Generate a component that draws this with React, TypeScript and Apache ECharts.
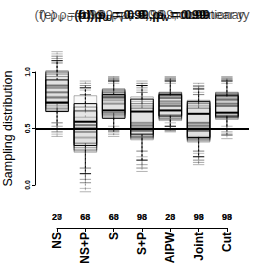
import React, { useEffect, useRef } from "react";
import * as echarts from "echarts";

const categories = ["NS", "NS+P", "S", "S+P", "AIPW", "Joint", "Cut"];

// Each layer: per category [min, q1, median, q3, max]
const layer1 = [
  [0.43, 0.66, 0.78, 0.98, 1.18],
  [-0.06, 0.29, 0.5, 0.79, 0.92],
  [0.43, 0.6, 0.77, 0.85, 0.96],
  [0.12, 0.4, 0.53, 0.78, 0.92],
  [0.47, 0.57, 0.72, 0.82, 0.96],
  [0.18, 0.38, 0.52, 0.75, 0.9],
  [0.41, 0.58, 0.75, 0.82, 0.96],
];
const layer2 = [
  [0.47, 0.68, 0.82, 1.01, 1.14],
  [0.02, 0.31, 0.53, 0.69, 0.88],
  [0.47, 0.62, 0.8, 0.84, 0.94],
  [0.15, 0.42, 0.5, 0.72, 0.9],
  [0.5, 0.59, 0.77, 0.81, 0.94],
  [0.22, 0.4, 0.55, 0.72, 0.87],
  [0.45, 0.6, 0.72, 0.8, 0.94],
];
const layer3 = [
  [0.5, 0.65, 0.73, 0.93, 1.1],
  [0.1, 0.35, 0.56, 0.72, 0.86],
  [0.5, 0.59, 0.66, 0.8, 0.92],
  [0.22, 0.45, 0.65, 0.76, 0.88],
  [0.52, 0.61, 0.66, 0.8, 0.92],
  [0.25, 0.42, 0.63, 0.74, 0.85],
  [0.5, 0.61, 0.64, 0.79, 0.92],
];
const layer4 = [
  [0.52, 0.7, 0.86, 0.96, 1.12],
  [0.05, 0.33, 0.47, 0.65, 0.9],
  [0.45, 0.63, 0.72, 0.83, 0.95],
  [0.18, 0.41, 0.55, 0.7, 0.86],
  [0.49, 0.58, 0.74, 0.82, 0.95],
  [0.2, 0.39, 0.5, 0.7, 0.88],
  [0.47, 0.59, 0.76, 0.81, 0.95],
];
const layer5 = [
  [0.45, 0.67, 0.77, 0.99, 1.16],
  [-0.03, 0.3, 0.42, 0.6, 0.84],
  [0.52, 0.61, 0.75, 0.85, 0.9],
  [0.25, 0.44, 0.52, 0.74, 0.84],
  [0.55, 0.6, 0.79, 0.8, 0.9],
  [0.28, 0.43, 0.53, 0.73, 0.82],
  [0.52, 0.62, 0.8, 0.82, 0.9],
];
const layer6 = [
  [0.55, 0.72, 0.88, 1.0, 1.08],
  [0.15, 0.37, 0.5, 0.66, 0.8],
  [0.48, 0.64, 0.78, 0.82, 0.93],
  [0.3, 0.43, 0.48, 0.68, 0.82],
  [0.48, 0.62, 0.7, 0.79, 0.93],
  [0.3, 0.41, 0.48, 0.68, 0.8],
  [0.44, 0.6, 0.7, 0.78, 0.93],
];

const countsA = ["27", "63", "60", "96", "23", "93", "98"];
const countsB = ["20", "68", "68", "98", "20", "99", "99"];
const countsC = ["23", "66", "63", "93", "28", "98", "93"];

const titles = [
  { text: "{n|(f) ρ}{s|U}{n| = 0.99, ρ}{s|V}{n| = 0.99, nonstationary}", bold: false },
  { text: "{n|(e) ρ}{s|U}{n| = 0.99, ρ}{s|V}{n| = 0.99, nonlinear y}", bold: false },
  { text: "{n|(b) ρ}{s|U}{n| = 0.99, ρ}{s|V}{n| = 0.99}", bold: true },
  { text: "{n|(d) ρ}{s|U}{n| = 0.9, ρ}{s|V}{n| = 0.99}", bold: true },
];

const refLine = 0.5;

const layers = [
  { data: layer1, color: "rgba(0,0,0,0.30)" },
  { data: layer2, color: "rgba(0,0,0,0.45)" },
  { data: layer4, color: "rgba(0,0,0,0.35)" },
  { data: layer5, color: "rgba(0,0,0,0.25)" },
  { data: layer6, color: "rgba(0,0,0,0.50)" },
  { data: layer3, color: "rgba(0,0,0,1)" },
];

const FONT = "Liberation Sans";

function makeRenderer(color: string) {
  return (params: any, api: any) => {
    const x = api.value(0);
    const pMin = api.coord([x, api.value(1)]);
    const pQ1 = api.coord([x, api.value(2)]);
    const pMed = api.coord([x, api.value(3)]);
    const pQ3 = api.coord([x, api.value(4)]);
    const pMax = api.coord([x, api.value(5)]);
    const half = api.size([0.8, 0])[0] / 2;
    const cx = pMed[0];
    const cap = half * 0.5;
    return {
      type: "group",
      children: [
        {
          type: "line",
          shape: { x1: cx, y1: pQ3[1], x2: cx, y2: pMax[1] },
          style: { stroke: color, lineWidth: 1, lineDash: [2, 2] },
        },
        {
          type: "line",
          shape: { x1: cx, y1: pQ1[1], x2: cx, y2: pMin[1] },
          style: { stroke: color, lineWidth: 1, lineDash: [2, 2] },
        },
        {
          type: "line",
          shape: { x1: cx - cap, y1: pMax[1], x2: cx + cap, y2: pMax[1] },
          style: { stroke: color, lineWidth: 1 },
        },
        {
          type: "line",
          shape: { x1: cx - cap, y1: pMin[1], x2: cx + cap, y2: pMin[1] },
          style: { stroke: color, lineWidth: 1 },
        },
        {
          type: "rect",
          shape: { x: cx - half, y: pQ3[1], width: half * 2, height: pQ1[1] - pQ3[1] },
          style: { fill: "rgba(0,0,0,0.02)", stroke: color, lineWidth: 1 },
        },
        {
          type: "line",
          shape: { x1: cx - half, y1: pMed[1], x2: cx + half, y2: pMed[1] },
          style: { stroke: color, lineWidth: 2 },
        },
      ],
    };
  };
}

export default function App() {
  const ref = useRef<HTMLDivElement>(null);
  useEffect(() => {
    if (!ref.current) return;
    const chart = echarts.init(ref.current, null, { renderer: "svg" });
    const series: any[] = layers.map((l, li) => ({
      type: "custom",
      xAxisIndex: 0,
      yAxisIndex: 0,
      renderItem: makeRenderer(l.color),
      encode: { x: 0, y: [1, 2, 3, 4, 5] },
      data: l.data.map((d, i) => [i + 1, ...d]),
      silent: true,
      z: 2 + li,
      markLine:
        li === layers.length - 1
          ? {
              silent: true,
              symbol: "none",
              label: { show: false },
              lineStyle: { color: "#000", width: 2.2, type: "solid" },
              data: [{ yAxis: refLine }],
              z: 10,
            }
          : undefined,
    }));
    [countsA, countsB, countsC].forEach((c) => {
      series.push({
        type: "scatter",
        xAxisIndex: 2,
        yAxisIndex: 2,
        symbolSize: 0,
        silent: true,
        data: c.map((v, i) => [i, 0.072, v]),
        label: {
          show: true,
          position: "inside",
          formatter: (p: any) => p.data[2],
          fontSize: 9,
          fontWeight: "bold",
          fontFamily: FONT,
          color: "rgba(0,0,0,0.85)",
        },
      });
    });

    const g = (o: any) => ({ ...o, containLabel: false, outerBoundsMode: "none" });

    chart.setOption({
      animation: false,
      backgroundColor: "#fff",
      title: titles.map((t) => {
        const w = t.bold ? "bold" : "normal";
        const color = t.bold ? "rgba(0,0,0,0.9)" : "rgba(0,0,0,0.7)";
        return {
          text: t.text,
          left: 142,
          top: 7,
          textAlign: "center",
          padding: 0,
          textStyle: {
            fontSize: 13,
            fontWeight: w,
            fontFamily: FONT,
            color,
            rich: {
              n: { fontSize: 13, fontWeight: w, fontFamily: FONT, color },
              s: { fontSize: 8.5, fontWeight: w, fontFamily: FONT, color, padding: [6, 0, 0, 0] },
            },
          },
        };
      }),
      grid: [
        g({ left: 35, width: 214, top: 40, height: 170 }),
        g({ left: 35, width: 214, top: 72, height: 113 }),
        g({ left: 57, width: 170, top: 72, height: 156 }),
      ],
      xAxis: [
        { type: "value", gridIndex: 0, min: 0.22, max: 7.78, show: false },
        { type: "value", gridIndex: 1, min: 0.22, max: 7.78, show: false },
        {
          type: "category",
          gridIndex: 2,
          data: categories,
          boundaryGap: false,
          position: "bottom",
          splitLine: { show: false },
          axisLine: { show: true, onZero: false, lineStyle: { color: "#000", width: 1 } },
          axisTick: { show: true, length: 4, alignWithLabel: true, lineStyle: { color: "#000" } },
          axisLabel: {
            rotate: 90,
            margin: 4,
            interval: 0,
            fontSize: 12,
            fontWeight: "bold",
            fontFamily: FONT,
            color: "#000",
            hideOverlap: false,
          },
        },
      ],
      yAxis: [
        {
          type: "value",
          gridIndex: 0,
          min: -25 / 113,
          max: 145 / 113,
          show: false,
        },
        {
          type: "value",
          gridIndex: 1,
          min: 0,
          max: 1,
          interval: 0.5,
          name: "Sampling distribution",
          nameLocation: "middle",
          nameGap: 21,
          nameTextStyle: { fontSize: 12.5, fontFamily: FONT, color: "#000" },
          splitLine: { show: false },
          axisLine: { show: true, onZero: false, lineStyle: { color: "#000", width: 1 } },
          axisTick: { show: true, length: 3, lineStyle: { color: "#000" } },
          axisLabel: {
            rotate: 90,
            margin: 4,
            fontSize: 7,
            fontWeight: "bold",
            fontFamily: FONT,
            color: "#000",
            formatter: (v: number) => v.toFixed(1),
          },
        },
        { type: "value", gridIndex: 2, min: 0, max: 1, show: false },
      ],
      series,
    });
    return () => chart.dispose();
  }, []);
  return (
    <div
      ref={ref}
      style={{ position: "absolute", left: 0, top: 0, width: 266, height: 266 }}
    />
  );
}
